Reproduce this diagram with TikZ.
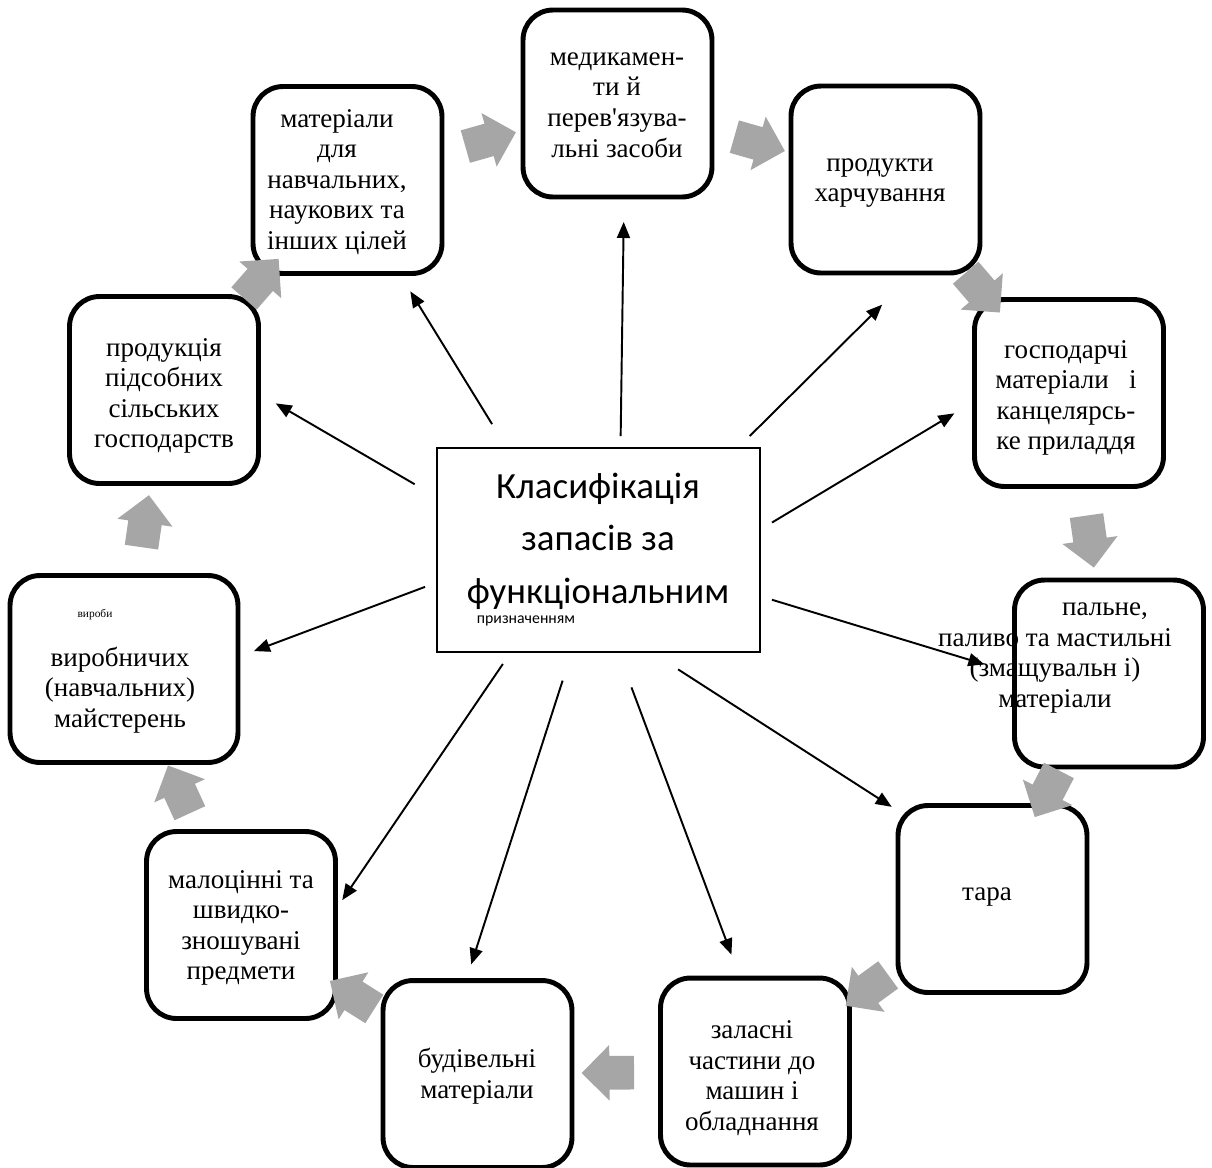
\documentclass[tikz,border=0pt]{standalone}
\usepackage{fontspec}
\setmainfont{Liberation Serif}
\newfontfamily\aposfont{Liberation Serif}[Ligatures=TeXOff]
\newfontfamily\calfont{Carlito}
\usetikzlibrary{arrows.meta,shapes.arrows}
\definecolor{flowgray}{RGB}{166,166,166}

\begin{document}
\begin{tikzpicture}[x=0.02cm,y=-0.02cm,
  box/.style={draw,line width=2.8pt,rounded corners=0.6cm,minimum width=3.78cm,minimum height=3.74cm,outer sep=0pt},
  lbl/.style={align=center,font=\fontsize{15.4}{17.4}\selectfont},
  link/.style={-{Triangle[length=0.32cm,width=0.26cm]},line width=1.1pt},
  flow/.style={single arrow,fill=flowgray,sloped,allow upside down,midway,inner sep=0pt,
    minimum height=1.05cm,single arrow head extend=0.22cm,text height=0.33cm,text depth=0.33cm}]
\useasboundingbox (0,0) rectangle (1212,1167);

% centre
\node[draw,line width=1pt,minimum width=6.46cm,minimum height=4.08cm,outer sep=0.24cm] (cbox) at (598.5,550) {};
\node[align=center,font=\calfont\fontsize{21}{29.8}\selectfont] (ctitle) at (598,541) {Класифікація\\запасів за\\функціональним};
\node[font=\calfont\fontsize{9}{11}\selectfont] (csub) at (526,621) {призначенням};

% boxes round the centre
\node[box] (med) at (617.5,103.5) {};
\node[box] (prod) at (885.5,179.5) {};
\node[box] (gosp) at (1069,393) {};
\node[box] (paln) at (1109,673.5) {};
\node[box] (tara) at (992.5,899) {};
\node[box] (zal) at (755,1071.5) {};
\node[box] (bud) at (477.5,1074) {};
\node[box] (malo) at (241,925) {};
\node[box,minimum width=4.56cm] (vyr) at (124,669) {};
\node[box] (prodsil) at (164,390) {};
\node[box] (mater) at (347.5,180) {};

\node[lbl] (medtxt) at (617,105) {медикамен-\\ти й\\перев{\aposfont '}язува-\\льні засоби};
\node[lbl] (prodtxt) at (880,183) {продукти\\харчування};
\node[lbl] (gosptxt) at (1066,398) {господарчі\\матеріали\ \ \ і\\канцелярсь-\\ке приладдя};
\node[lbl] (palntxt) at (1055,658) {\hspace*{2cm}пальне,\\паливо та мастильні\\(змащувальн і)\\матеріали};
\node[lbl] (taratxt) at (987,897) {тара};
\node[lbl] (zaltxt) at (752,1078) {заласні\\частини до\\машин і\\обладнання};
\node[lbl] (budtxt) at (477,1076) {будівельні\\матеріали};
\node[lbl] (malotxt) at (241,928) {малоцінні та\\швидко-\\зношувані\\предмети};
\node[font=\fontsize{6.5}{8}\selectfont] (vyrsmall) at (95,615) {вироби};
\node[lbl] (vyrtxt) at (120,690) {виробничих\\(навчальних)\\майстерень};
\node[lbl] (prodsiltxt) at (164,396) {продукція\\підсобних\\сільських\\господарств};
\node[lbl] (matertxt) at (337,182) {матеріали\\для\\навчальних,\\наукових та\\інших цілей};

% arrows from the centre
\draw[link,shorten >=0.5cm] (cbox.79) -- (med.-86);
\draw[link,shorten >=0.9cm] (cbox.37) -- (prod.-73);
\draw[link,shorten >=0.47cm] (cbox.9) -- (gosp.185);
\draw[link,shorten >=0.63cm] (cbox.-16) -- (paln.180);
\draw[link,shorten <=0.2cm,shorten >=0.15cm] (cbox.-58) -- (tara.137);
\draw[link,shorten <=0.5cm,shorten >=0.5cm] (cbox.-78) -- (zal.99);
\draw[link,shorten <=0.35cm,shorten >=0.34cm] (cbox.-105) -- (bud.97);
\draw[link,shorten >=0.24cm] (cbox.-130) -- (malo.9);
\draw[link,shorten >=0.34cm] (cbox.-168) -- (vyr.6);
\draw[link,shorten <=0.24cm,shorten >=0.4cm] (cbox.161) -- (prodsil.-2);
\draw[link,shorten <=0.28cm,shorten >=0.42cm] (cbox.131) -- (mater.-61);

% grey arrows round the ring
\path (mater) -- node[flow] (f1) {} (med);
\path (med) -- node[flow] (f2) {} (prod);
\path (prod) -- node[flow] (f3) {} (gosp);
\path (gosp) -- node[flow] (f4) {} (paln);
\path (paln) -- node[flow] (f5) {} (tara);
\path (tara) -- node[flow] (f6) {} (zal);
\path (zal) -- node[flow] (f7) {} (bud);
\path (bud) -- node[flow] (f8) {} (malo);
\path (malo) -- node[flow] (f9) {} (vyr);
\path (vyr) -- node[flow] (f10) {} (prodsil);
\path (prodsil) -- node[flow] (f11) {} (mater);

\end{tikzpicture}
\end{document}
